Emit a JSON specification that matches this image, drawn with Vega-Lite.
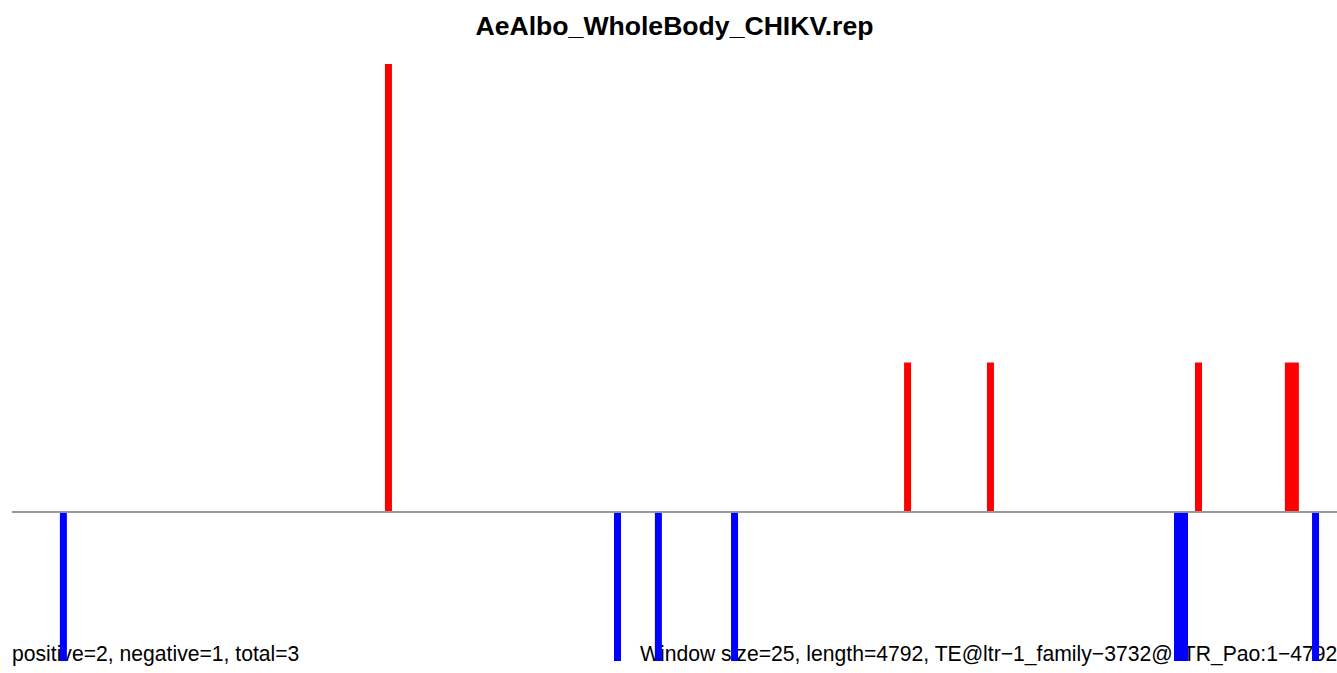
{
  "width": 1325,
  "height": 597,
  "autosize": {"type": "none"},
  "padding": {"left": 12, "top": 64, "right": 0, "bottom": 12},
  "background": "white",
  "config": {"view": {"stroke": null}},
  "title": {"text": "AeAlbo_WholeBody_CHIKV.rep", "font": "Liberation Sans", "fontSize": 26.6, "fontWeight": "bold", "anchor": "middle", "offset": 23, "color": "black"},
  "data": {"values": [
    {"start": 171, "end": 196, "value": -1, "strand": "negative"},
    {"start": 1332, "end": 1357, "value": 3, "strand": "positive"},
    {"start": 2150, "end": 2175, "value": -1, "strand": "negative"},
    {"start": 2296, "end": 2321, "value": -1, "strand": "negative"},
    {"start": 2568, "end": 2593, "value": -1, "strand": "negative"},
    {"start": 3186, "end": 3211, "value": 1, "strand": "positive"},
    {"start": 3482, "end": 3507, "value": 1, "strand": "positive"},
    {"start": 4150, "end": 4200, "value": -1, "strand": "negative"},
    {"start": 4225, "end": 4250, "value": 1, "strand": "positive"},
    {"start": 4546, "end": 4596, "value": 1, "strand": "positive"},
    {"start": 4643, "end": 4668, "value": -1, "strand": "negative"}
  ]},
  "layer": [
    {
      "data": {"values": [
        {"label": "positive=2, negative=1, total=3", "pos": 0, "level": -1},
        {"label": "Window size=25, length=4792, TE@ltr−1_family−3732@LTR_Pao:1−4792", "pos": 2243, "level": -1}
      ]},
      "mark": {"type": "text", "align": "left", "baseline": "alphabetic", "fontSize": 21.15, "font": "Liberation Sans", "color": "black"},
      "encoding": {
        "x": {"field": "pos", "type": "quantitative", "axis": null},
        "y": {"field": "level", "type": "quantitative", "axis": null},
        "text": {"field": "label", "type": "nominal"}
      }
    },
    {
      "mark": {"type": "rect"},
      "encoding": {
        "x": {"field": "start", "type": "quantitative", "scale": {"domain": [0, 4732.142857], "nice": false, "zero": false}, "axis": null},
        "x2": {"field": "end"},
        "y": {"field": "value", "type": "quantitative", "scale": {"domain": [-1, 3], "nice": false}, "axis": null},
        "y2": {"datum": 0},
        "color": {"field": "strand", "type": "nominal", "scale": {"domain": ["positive", "negative"], "range": ["#FF0000", "#0000FF"]}, "legend": null}
      }
    },
    {
      "mark": {"type": "rule", "color": "#999999", "strokeWidth": 1.2},
      "encoding": {"y": {"datum": 0, "type": "quantitative", "axis": null}}
    }
  ]
}
